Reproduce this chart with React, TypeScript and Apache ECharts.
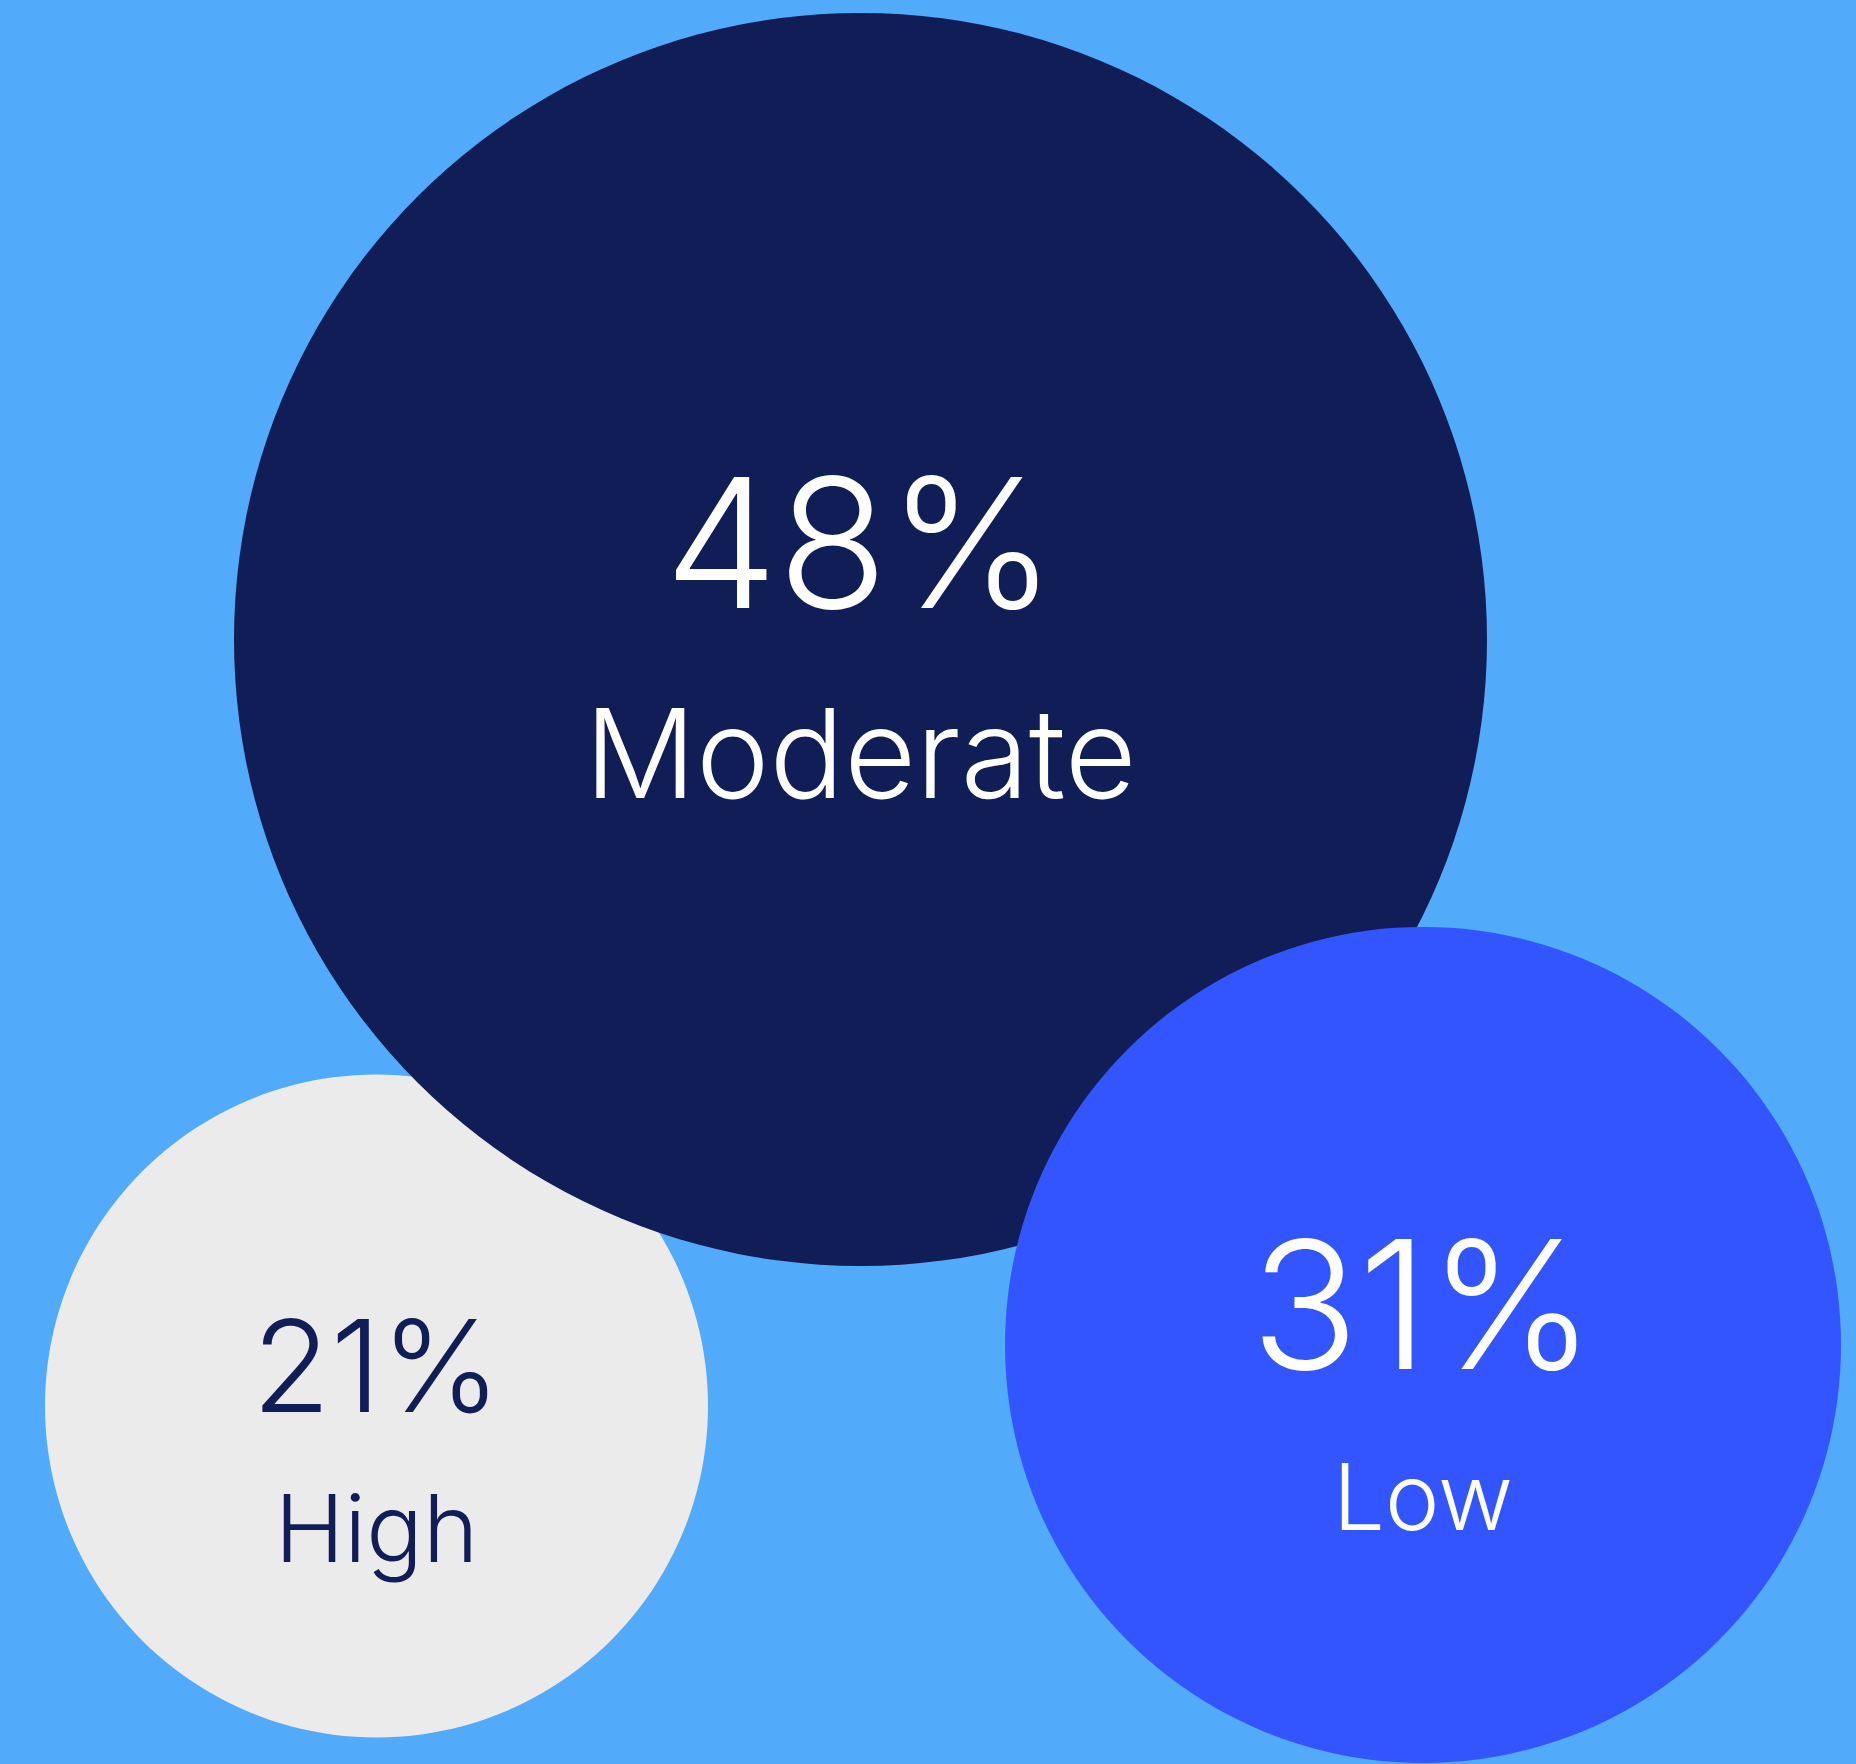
import React, { useEffect, useRef } from "react";
import * as echarts from "echarts";

// Data
const categories = ["High", "Moderate", "Low"];
const shares = [21, 48, 31];

// Layout (bubble placement in a 0..1856 x 0..1764 layout space, and diameters)
const bubbleX = [376.5, 860.5, 1423];
const bubbleY = [1406, 639.5, 1345];
const bubbleDiameter = [663, 1253, 836];

const bubbleColors = ["#EBEBEB", "#111D57", "#3355FF"];
const textColors = ["#111D57", "#FFFFFF", "#FFFFFF"];
const numberFont = [128, 180, 178];
const nameFont = [94, 124, 92];
const numberLine = [244, 226, 302];
const nameLine = [82, 194, 81];

const W = 1856;
const H = 1764;

export default function App() {
  const ref = useRef<HTMLDivElement>(null);
  useEffect(() => {
    document.body.style.margin = "0";
    document.body.style.overflow = "hidden";
    const chart = echarts.init(ref.current!, null, { renderer: "svg" });
    const data = categories.map((name, i) => ({
      name,
      value: [bubbleX[i], bubbleY[i], shares[i]],
      symbolSize: bubbleDiameter[i],
      itemStyle: { color: bubbleColors[i], opacity: 1 },
      label: {
        show: true,
        position: "inside",
        opacity: 1,
        formatter: `{v|${shares[i]}%}\n{n|${name}}`,
        rich: {
          v: {
            fontFamily: "Inter",
            fontWeight: 300,
            fontSize: numberFont[i],
            lineHeight: numberLine[i],
            color: textColors[i],
            align: "center",
          },
          n: {
            fontFamily: "Inter",
            fontWeight: 300,
            fontSize: nameFont[i],
            lineHeight: nameLine[i],
            color: textColors[i],
            align: "center",
          },
        },
      },
    }));
    chart.setOption({
      animation: false,
      backgroundColor: "#52AAFA",
      grid: { left: 0, right: 0, top: 0, bottom: 0 },
      xAxis: { type: "value", min: 0, max: W, show: false },
      yAxis: { type: "value", min: 0, max: H, inverse: true, show: false },
      series: [
        {
          type: "scatter",
          silent: true,
          symbol: "circle",
          itemStyle: { opacity: 1 },
          data,
          emphasis: { disabled: true },
        },
      ],
    });
    return () => chart.dispose();
  }, []);
  return <div ref={ref} style={{ width: W, height: H }} />;
}
